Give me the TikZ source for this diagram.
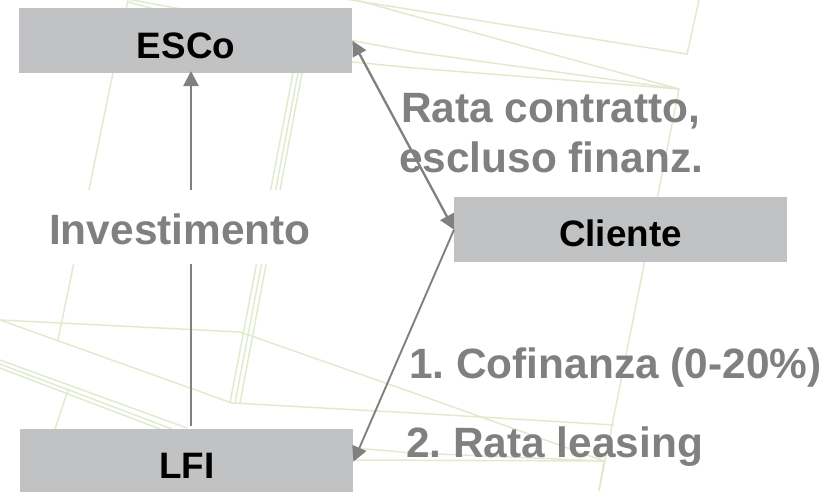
\documentclass[tikz,border=0pt]{standalone}
\usepackage{fontspec}
\setmainfont{Liberation Sans}
\usetikzlibrary{arrows.meta}
\definecolor{boxgray}{HTML}{C1C2C4}
\definecolor{labelgray}{HTML}{808080}
\definecolor{leaf}{HTML}{E0EBCE}
\frenchspacing
\tikzset{
  boxnode/.style={fill=boxgray,inner sep=0pt,minimum width=333pt,minimum height=65pt,anchor=north west},
  boxtext/.style={inner sep=0pt,anchor=base,text=black,font=\fontsize{36.8pt}{40pt}\selectfont\bfseries},
  labeltext/.style={inner sep=0pt,anchor=base west,text=labelgray,font=\fontsize{42.4pt}{46pt}\selectfont\bfseries},
  leafline/.style={draw=leaf,line width=1.5pt},
  flow/.style={draw=labelgray,line width=2.3pt},
  tip/.style={-{Triangle[length=15pt,width=15pt]}},
  bothtips/.style={{Triangle[length=15pt,width=15pt]}-{Triangle[length=15pt,width=15pt]}},
}
\begin{document}
\begin{tikzpicture}[x=1pt,y=-1pt]
\useasboundingbox (0,0) rectangle (827,491);
\begin{scope}
\clip (0,0) rectangle (827,491);
% background sketch
\draw[leafline] (128,0) -- (58,340);
\draw[leafline] (302,73) -- (240,403);
\draw[leafline] (293,73) -- (230,403);
\draw[leafline] (298,73) -- (235,403);
\draw[leafline] (127,-1) -- (414,52) -- (679,89);
\draw[leafline] (128,2) -- (353,62) -- (414,68) -- (679,89);
\draw[leafline] (345,-1) -- (687,54) -- (699,0);
\draw[leafline] (345,-3) -- (679,89) -- (599,491);
\draw[leafline] (0,320) -- (240,332) -- (414,393) -- (604,461);
\draw[leafline] (0,320) -- (232,403) -- (414,413) -- (614,425);
\draw[leafline] (0,360) -- (187,428);
\draw[leafline] (0,364) -- (172,429);
\draw[leafline] (0,368) -- (160,429);
\draw[leafline] (68,390) -- (55,429);
\draw[leafline] (353,460) -- (604,461) -- (599,491);
\draw[leafline] (353,448) -- (414,453) -- (604,461);
\end{scope}
% white-backed label
\node[fill=white,inner sep=0pt,minimum width=268pt,minimum height=74pt] (inv) at (178,227) {};
% boxes
\node[boxnode] (esco) at (19,8) {};
\node[boxnode] (cliente) at (454,197) {};
\node[boxnode] (lfi) at (20,429) {};
\node[boxtext] (escot) at (186,58) {ESCo};
\node[boxtext] (clientet) at (620.5,246) {Cliente};
\node[boxtext] (lfit) at (187,478) {LFI};
% labels
\node[labeltext] (invt) at (49,244) {Investimento};
\node[labeltext] (rata) at (401,122) {Rata contratto,};
\node[labeltext] (escl) at (399,172) {escluso finanz.};
\node[labeltext] (cof) at (409,378) {1. Cofinanza (0-20\%)};
\node[labeltext] (leas) at (406,457) {2. Rata leasing};
% connectors
\coordinate (invtop) at (inv.north -| 191,0);
\coordinate (invbot) at (inv.south -| 191,0);
\coordinate (escoin) at (191,71);
\coordinate (lfiout) at (191,426);
\draw[flow,tip] (invtop) -- (escoin);
\draw[flow] (lfiout) -- (invbot);
\draw[flow,bothtips] (esco.east) -- (cliente.west);
\draw[flow,line width=1.9pt,tip] (cliente.west) -- (lfi.east);
\end{tikzpicture}
\end{document}
